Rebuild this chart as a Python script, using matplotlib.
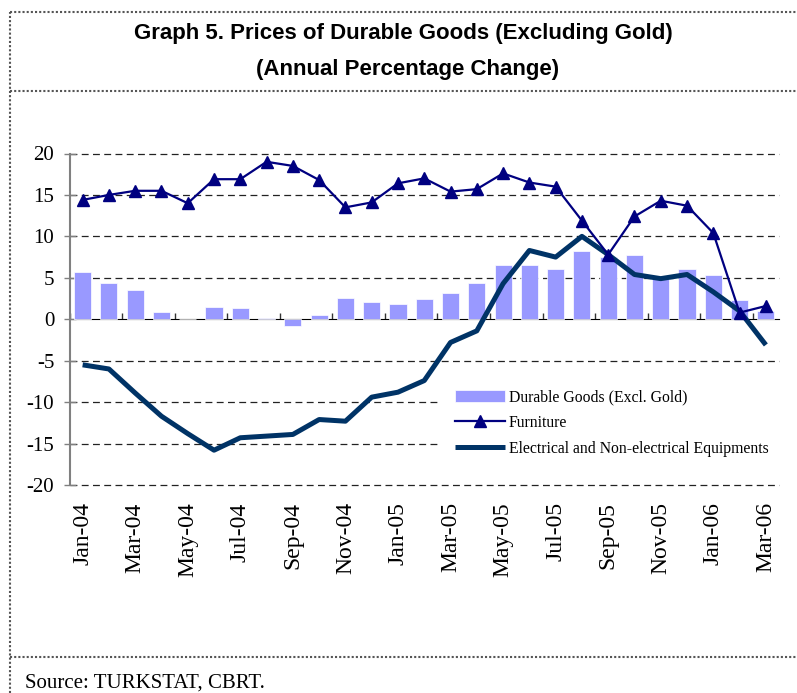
import numpy as np
import matplotlib
matplotlib.use("Agg")
import matplotlib.pyplot as plt
from matplotlib.lines import Line2D

# months on the x axis
months = ["Jan-04", "Feb-04", "Mar-04", "Apr-04", "May-04", "Jun-04", "Jul-04",
          "Aug-04", "Sep-04", "Oct-04", "Nov-04", "Dec-04", "Jan-05", "Feb-05",
          "Mar-05", "Apr-05", "May-05", "Jun-05", "Jul-05", "Aug-05", "Sep-05",
          "Oct-05", "Nov-05", "Dec-05", "Jan-06", "Feb-06", "Mar-06"]

# annual % change
durable = [5.7, 4.4, 3.5, 0.9, 0.0, 1.5, 1.4, 0.2, -0.8, 0.5, 2.6, 2.1, 1.9, 2.4,
           3.2, 4.4, 6.6, 6.6, 6.1, 8.2, 7.5, 7.8, 4.9, 6.1, 5.3, 2.3, 1.0]
furniture = [14.4, 15.0, 15.5, 15.5, 14.0, 16.9, 16.9, 19.0, 18.5, 16.8, 13.5, 14.1,
             16.4, 17.0, 15.4, 15.7, 17.6, 16.5, 16.0, 11.9, 7.8, 12.4, 14.3, 13.7,
             10.4, 0.8, 1.6]
electrical = [-5.5, -6.0, -8.9, -11.7, -13.8, -15.8, -14.3, -14.1, -13.9, -12.1, -12.3,
              -9.4, -8.8, -7.4, -2.8, -1.4, 4.3, 8.3, 7.5, 10.0, 7.8, 5.4, 4.9, 5.4,
              3.3, 1.0, -3.1]

yticks = [20, 15, 10, 5, 0, -5, -10, -15, -20]

serif = "Liberation Serif"
W, H = 797, 693

fig = plt.figure(figsize=(W / 100, H / 100), dpi=100)
ax = fig.add_axes([69.5 / W, 1 - 485 / H, (779 - 69.5) / W, (485 - 153.5) / H])

x = np.arange(len(months))
bars = ax.bar(x, durable, width=0.65, color="#9999FF", edgecolor="white", linewidth=0.5,
              label="Durable Goods (Excl. Gold)", zorder=2)
l_furn, = ax.plot(x, furniture, color="#000080", lw=1.6, marker="^", markersize=8.5,
                  label="Furniture", zorder=4)
l_elec, = ax.plot(x, electrical, color="#003366", lw=3.6, solid_capstyle="butt",
                  label="Electrical and Non-electrical Equipments", zorder=3)

ax.set_xlim(-0.5, len(months) - 0.5)
ax.set_ylim(-20, 20)

# dashed grid, no line at zero (the zero axis is drawn below)
for v in yticks:
    if v != 0:
        ax.axhline(v, color="#222222", lw=0.9, linestyle=(0, (5.5, 3.5)), zorder=1,
                   clip_on=False)

ax.set_yticks(yticks)
ax.set_yticklabels([str(v) for v in yticks], fontsize=15, family=serif)
ax.tick_params(axis="y", direction="inout", length=8, width=1, color="#808080", pad=7)

ax.set_xticks(x[::2])
ax.set_xticklabels(months[::2], rotation=90, fontsize=17, family=serif)
ax.tick_params(axis="x", length=0, pad=12.5)

for s in ["top", "right", "bottom"]:
    ax.spines[s].set_visible(False)
ax.spines["left"].set_color("#808080")
ax.spines["left"].set_linewidth(1.5)

# zero line with ticks at every second category boundary
zero = ax.secondary_xaxis(0.5)
zero.set_xticks(np.arange(-0.5, len(months) - 1, 2))
zero.set_xticklabels([])
zero.tick_params(direction="out", length=4.5, width=1, color="#333333")
zero.spines["bottom"].set_color("black")
zero.spines["bottom"].set_linewidth(1)

leg = ax.legend(handles=[bars, l_furn, l_elec], loc="upper left",
                bbox_to_anchor=(438 / W, 1 - 372 / H),
                bbox_transform=fig.transFigure, prop={"family": serif, "size": 11.3},
                frameon=True, facecolor="white", edgecolor="none", framealpha=1,
                fancybox=False, handlelength=3.2, handletextpad=0.2, handleheight=0.8,
                labelspacing=0.62, borderpad=1.1, borderaxespad=0)
leg.set_zorder(5)

# titles
tfam = ["Liberation Sans Narrow", "Liberation Sans", "DejaVu Sans"]
fig.text(403 / W, 1 - 34 / H, "Graph 5. Prices of Durable Goods (Excluding Gold)",
         ha="center", va="center", fontsize=16, fontweight="bold", family=tfam)
fig.text(408 / W, 1 - 70 / H, "(Annual Percentage Change)",
         ha="center", va="center", fontsize=16, fontweight="bold", family=tfam)

fig.text(25 / W, 1 - 683 / H, "Source: TURKSTAT, CBRT.", ha="left", va="center",
         fontsize=15, family=serif)

# dotted frame
dot = dict(color="#555555", lw=1.5, linestyle=(0, (1, 1)), transform=fig.transFigure)
fig.add_artist(Line2D([10 / W, 1], [1 - 12 / H, 1 - 12 / H], **dot))
fig.add_artist(Line2D([10 / W, 1], [1 - 91 / H, 1 - 91 / H], **dot))
fig.add_artist(Line2D([10 / W, 1], [1 - 657 / H, 1 - 657 / H], **dot))
fig.add_artist(Line2D([10 / W, 10 / W], [0, 1 - 12 / H], **dot))

fig.savefig("out.png", dpi=100)
